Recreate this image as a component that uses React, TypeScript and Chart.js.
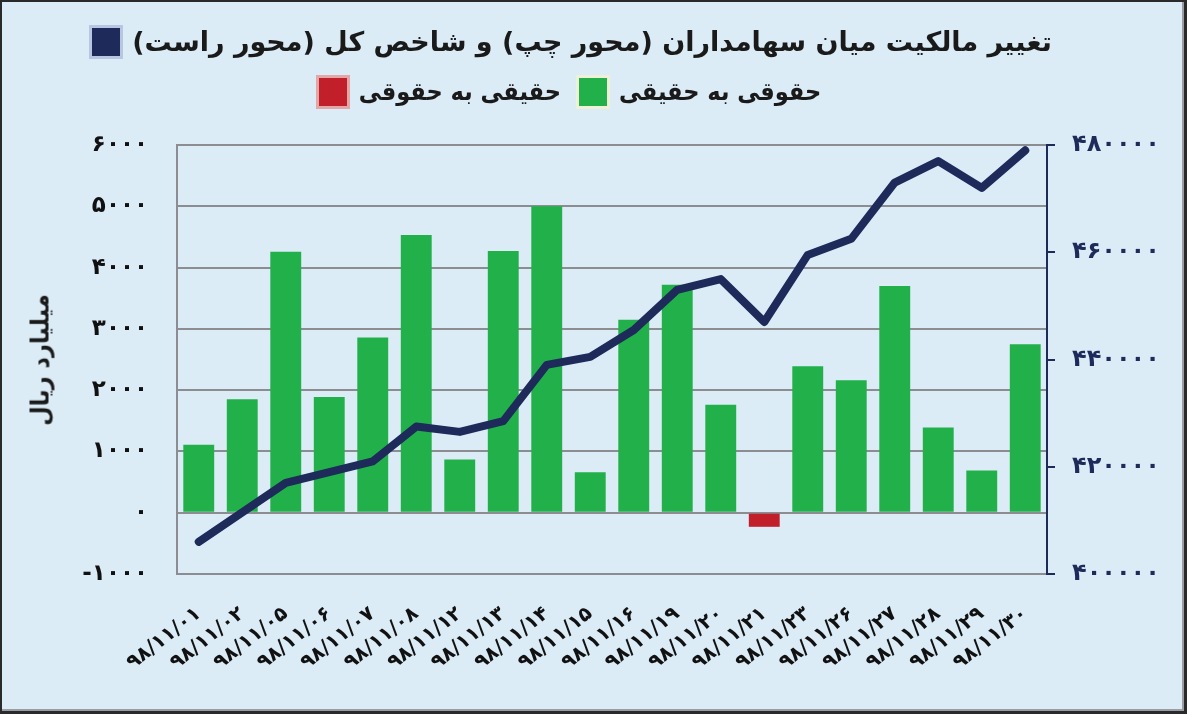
import React, { useEffect, useRef } from 'react';
import { Chart, registerables } from 'chart.js';

Chart.register(...registerables);

// داده‌ها
const dates = [
  '۹۸/۱۱/۰۱', '۹۸/۱۱/۰۲', '۹۸/۱۱/۰۵', '۹۸/۱۱/۰۶', '۹۸/۱۱/۰۷',
  '۹۸/۱۱/۰۸', '۹۸/۱۱/۱۲', '۹۸/۱۱/۱۳', '۹۸/۱۱/۱۴', '۹۸/۱۱/۱۵',
  '۹۸/۱۱/۱۶', '۹۸/۱۱/۱۹', '۹۸/۱۱/۲۰', '۹۸/۱۱/۲۱', '۹۸/۱۱/۲۳',
  '۹۸/۱۱/۲۶', '۹۸/۱۱/۲۷', '۹۸/۱۱/۲۸', '۹۸/۱۱/۲۹', '۹۸/۱۱/۳۰',
];

// تغییر مالکیت (میلیارد ریال) - مثبت: حقوقی به حقیقی، منفی: حقیقی به حقوقی
const ownershipChange = [
  1110, 1850, 4260, 1890, 2860, 4530, 870, 4270, 5000, 660,
  3150, 3720, 1760, -230, 2390, 2160, 3700, 1390, 690, 2750,
];

// شاخص کل
const totalIndex = [
  406000, 411500, 417000, 419000, 421000, 427500, 426500, 428500, 439000, 440500,
  445500, 453000, 455000, 447000, 459500, 462500, 473000, 477000, 472000, 479000,
];

const leftAxisRange = [-1000, 6000];
const leftAxisStep = 1000;
const rightAxisRange = [400000, 480000];
const rightAxisStep = 20000;

const GREEN = '#22b04b';
const RED = '#c1202b';
const NAVY = '#1d2a5a';
const BG = '#dbecf7';
const GRID = '#8b8d91';
const FONT = '"DejaVu Sans", sans-serif';
const FONT_COND = '"DejaVu Sans Condensed", "DejaVu Sans", sans-serif';

const faDigits = '۰۱۲۳۴۵۶۷۸۹';
const toFa = (n: number | string) => String(n).replace(/\d/g, d => faDigits[+d]);

const OwnershipChart: React.FC = () => {
  const canvasRef = useRef<HTMLCanvasElement>(null);
  const chartRef = useRef<Chart | null>(null);

  useEffect(() => {
    if (!canvasRef.current) return;
    if (chartRef.current) chartRef.current.destroy();

    chartRef.current = new Chart(canvasRef.current, {
      type: 'bar',
      data: {
        labels: dates,
        datasets: [
          {
            type: 'line',
            label: 'شاخص کل',
            data: totalIndex,
            yAxisID: 'y2',
            borderColor: NAVY,
            borderWidth: 8,
            borderCapStyle: 'round',
            borderJoinStyle: 'round',
            pointRadius: 0,
            tension: 0,
            order: 0,
          },
          {
            type: 'bar',
            label: 'تغییر مالکیت',
            data: ownershipChange,
            yAxisID: 'y',
            backgroundColor: ownershipChange.map(v => (v >= 0 ? GREEN : RED)),
            barPercentage: 0.71,
            categoryPercentage: 1,
            order: 1,
          },
        ],
      },
      options: {
        animation: false,
        responsive: false,
        maintainAspectRatio: false,
        layout: { padding: { top: 143, left: 0, right: 0, bottom: 0 } },
        plugins: {
          legend: { display: false },
          tooltip: { enabled: false },
        },
        scales: {
          x: {
            offset: true,
            grid: { display: false, drawTicks: false },
            border: { display: false },
            ticks: {
              autoSkip: false,
              minRotation: 38,
              maxRotation: 38,
              padding: 28,
              color: '#111',
              font: { family: FONT, weight: 'bold', size: 20 },
            },
            afterFit: (scale: any) => { scale.height = 137; },
          },
          y: {
            position: 'left',
            min: leftAxisRange[0],
            max: leftAxisRange[1],
            grid: { color: GRID, lineWidth: 2, drawTicks: false },
            border: { display: true, color: GRID, width: 2 },
            ticks: {
              stepSize: leftAxisStep,
              padding: 29,
              color: '#111',
              font: { family: FONT, weight: 'bold', size: 23 },
              callback: (v: any) => toFa(v),
            },
            afterFit: (scale: any) => { scale.width = 175; },
          },
          y2: {
            position: 'right',
            min: rightAxisRange[0],
            max: rightAxisRange[1],
            grid: { drawOnChartArea: false, drawTicks: true, tickLength: 8, color: NAVY, lineWidth: 2 },
            border: { display: true, color: NAVY, width: 2 },
            ticks: {
              stepSize: rightAxisStep,
              padding: 17,
              color: NAVY,
              font: { family: FONT, weight: 'bold', size: 24 },
              callback: (v: any) => toFa(v),
            },
            afterFit: (scale: any) => { scale.width = 137; },
          },
        },
      },
    });

    return () => {
      if (chartRef.current) {
        chartRef.current.destroy();
        chartRef.current = null;
      }
    };
  }, []);

  return <canvas ref={canvasRef} width={1182} height={709} style={{ display: 'block' }} />;
};

const LegendBox: React.FC<{ color: string; ring: string }> = ({ color, ring }) => (
  <span
    style={{
      display: 'inline-block',
      width: 28,
      height: 28,
      background: color,
      boxShadow: `0 0 0 3px ${ring}`,
      flex: '0 0 auto',
    }}
  />
);

export default function App() {
  return (
    <div
      style={{
        position: 'absolute',
        left: 0,
        top: 0,
        width: 1187,
        height: 714,
        boxSizing: 'border-box',
        background: BG,
        borderTop: '2px solid #2a2a2a',
        borderLeft: '2px solid #2a2a2a',
        borderRight: '3px solid #2a2a2a',
        borderBottom: '3px solid #2a2a2a',
        boxShadow: 'inset -2px -2px 0 #9a9ea3',
        fontFamily: FONT,
        overflow: 'hidden',
      }}
    >
      <OwnershipChart />

      {/* عنوان و راهنما */}
      <div
        style={{
          position: 'absolute',
          left: 0,
          top: 24,
          width: 1140,
          display: 'flex',
          justifyContent: 'center',
          alignItems: 'center',
          direction: 'rtl',
          gap: 12,
          fontWeight: 'bold',
          fontSize: 27,
          color: '#1a1a1a',
        }}
      >
        <span>تغییر مالکیت میان سهامداران (محور چپ) و شاخص کل (محور راست)</span>
        <LegendBox color={NAVY} ring="#b8c6e2" />
      </div>
      <div
        style={{
          position: 'absolute',
          left: 0,
          top: 75,
          width: 1136,
          display: 'flex',
          justifyContent: 'center',
          alignItems: 'center',
          direction: 'rtl',
          gap: 12,
          fontWeight: 'bold',
          fontFamily: FONT_COND,
          fontSize: 25,
          color: '#1a1a1a',
        }}
      >
        <span>حقوقی به حقیقی</span>
        <LegendBox color={GREEN} ring="#eef0d8" />
        <span style={{ marginRight: 6 }}>حقیقی به حقوقی</span>
        <LegendBox color={RED} ring="#e4a7a8" />
      </div>

      {/* عنوان محور چپ */}
      <div
        style={{
          position: 'absolute',
          left: 38,
          top: 358,
          transform: 'translate(-50%, -50%) rotate(-90deg)',
          whiteSpace: 'nowrap',
          direction: 'rtl',
          fontWeight: 'bold',
          fontFamily: FONT_COND,
          fontSize: 25,
          color: '#1a1a1a',
        }}
      >
        میلیارد ریال
      </div>
    </div>
  );
}
